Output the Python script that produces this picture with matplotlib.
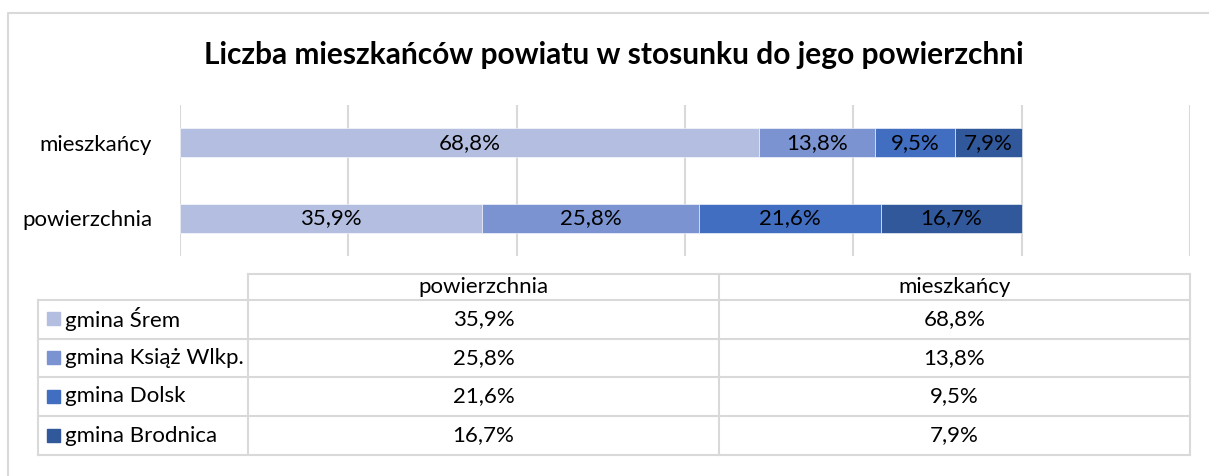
import matplotlib
matplotlib.use('Agg')
from matplotlib import pyplot as plt
import numpy as np

# data
gminy = ['gmina Śrem', 'gmina Książ Wlkp.', 'gmina Dolsk', 'gmina Brodnica']
kategorie = ['powierzchnia', 'mieszkańcy']
powierzchnia = [35.9, 25.8, 21.6, 16.7]
mieszkancy = [68.8, 13.8, 9.5, 7.9]
kolory = ['#B4BEE0', '#7B93D0', '#416EC0', '#31589B']
tytul = 'Liczba mieszkańców powiatu w stosunku do jego powierzchni'

plt.rcParams['font.family'] = ['Lato', 'DejaVu Sans']
fs = 16

W, H = 1209, 476
fig = plt.figure(figsize=(W / 100, H / 100), dpi=100)

# background axes in pixel coords for the frame and the data table
bg = fig.add_axes([0, 0, 1, 1])
bg.set_xlim(0, W)
bg.set_ylim(H, 0)
bg.axis('off')
bg.plot([8, 8, W + 5], [H + 5, 13, 13], color='#D9D9D9', lw=1.5)

bg.text(614, 55, tytul, ha='center', va='center', fontsize=21.5,
        fontweight='bold', color='black')

# main bar chart
x0, x1, y0, y1 = 180, 1190, 105, 256
ax = fig.add_axes([x0 / W, 1 - y1 / H, (x1 - x0) / W, (y1 - y0) / H])
wartosci = np.array([powierzchnia, mieszkancy]) / 100
ypos = np.arange(len(kategorie))
left = np.zeros(len(kategorie))
for i, g in enumerate(gminy):
    ax.barh(ypos, wartosci[:, i], left=left, height=0.38, color=kolory[i],
            edgecolor='white', linewidth=0.4, zorder=2)
    for j in range(len(kategorie)):
        ax.text(left[j] + wartosci[j, i] / 2, ypos[j],
                f'{wartosci[j, i] * 100:.1f}%'.replace('.', ','),
                ha='center', va='center', fontsize=fs, color='black', zorder=3)
    left += wartosci[:, i]

ax.set_xlim(0, 1.2)
ax.set_ylim(-0.5, 1.5)
ax.set_xticks(np.arange(0, 1.21, 0.2))
ax.set_xticklabels([])
ax.set_yticks(ypos)
ax.set_yticklabels(kategorie, fontsize=fs)
ax.tick_params(length=0, pad=20)
ax.grid(axis='x', color='#D9D9D9', lw=1.5, zorder=0)
for s in ax.spines.values():
    s.set_visible(False)
ax.patch.set_alpha(0)

# data table
cx = [38, 248, 719, 1190]
ry = [274, 300, 338.5, 377, 416, 455]
lc = '#D9D9D9'
bg.plot([cx[1], cx[3]], [ry[0], ry[0]], color=lc, lw=1.5)
for y in ry[1:]:
    bg.plot([cx[0], cx[3]], [y, y], color=lc, lw=1.5)
bg.plot([cx[0], cx[0]], [ry[1], ry[-1]], color=lc, lw=1.5)
for x in cx[1:]:
    bg.plot([x, x], [ry[0], ry[-1]], color=lc, lw=1.5)

kolumny = [powierzchnia, mieszkancy]
for k, nazwa in enumerate(kategorie):
    xm = (cx[k + 1] + cx[k + 2]) / 2
    bg.text(xm, (ry[0] + ry[1]) / 2, nazwa, ha='center', va='center',
            fontsize=fs, color='black')
    for i, v in enumerate(kolumny[k]):
        bg.text(xm, (ry[i + 1] + ry[i + 2]) / 2,
                f'{v:.1f}%'.replace('.', ','), ha='center', va='center',
                fontsize=fs, color='black')

for i, g in enumerate(gminy):
    ym = (ry[i + 1] + ry[i + 2]) / 2
    bg.add_patch(plt.Rectangle((47, ym - 7), 13, 13, color=kolory[i]))
    bg.text(65, ym, g, ha='left', va='center', fontsize=fs, color='black')

fig.savefig('out.png', dpi=100)
